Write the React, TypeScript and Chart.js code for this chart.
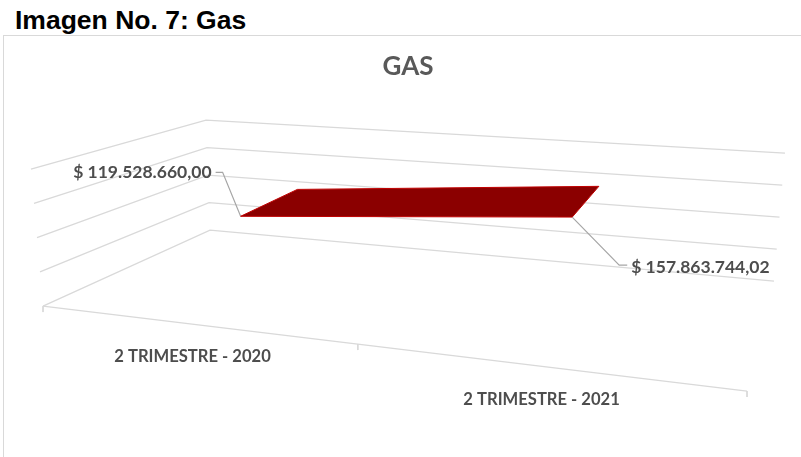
import React, { useEffect, useRef } from "react";
import { Chart, registerables } from "chart.js";

Chart.register(...registerables);

const categories = ["2 TRIMESTRE - 2020", "2 TRIMESTRE - 2021"];
const values = [119528660.0, 157863744.02];
const valueLabels = ["$ 119.528.660,00", "$ 157.863.744,02"];
const axisLevels = [0, 50000000, 100000000, 150000000, 200000000];
const chartTitle = "GAS";
const pageHeading = "Imagen No. 7: Gas";

const AXIS_MAX = 200000000;
const GRID = "#d9d9d9";
const TEXT = "#4d4d4d";
const FONT = "Lato, 'Open Sans', sans-serif";

// Perspective box of the 3-D plot: floor corners and the height vector of each vertical edge.
const FLOOR = { fl: [43, 306], bl: [210, 230], fr: [747, 391], br: [774, 281] };
const RISE = { fl: [-12, -137], bl: [-4, -110], fr: [18, -160], br: [11, -128] };
const FORESHORTEN = 1.236;
const RIBBON_FRONT = 0.385;
const RIBBON_BACK = 0.79;
// Small per-category correction of the ribbon, in screen units.
const RIBBON_NUDGE = [
  [-2.5, 2.5],
  [-2, 1],
];

const mix = (a: number[], b: number[], t: number) => [a[0] + (b[0] - a[0]) * t, a[1] + (b[1] - a[1]) * t];

function project(u: number, depth: number, value: number) {
  const t = u / (u + FORESHORTEN * (1 - u));
  const v = value / AXIS_MAX;
  const base = mix(mix(FLOOR.fl, FLOOR.fr, t), mix(FLOOR.bl, FLOOR.br, t), depth);
  const rise = mix(mix(RISE.fl, RISE.fr, t), mix(RISE.bl, RISE.br, t), depth);
  return { x: base[0] + rise[0] * v, y: base[1] + rise[1] * v };
}

const catU = (i: number) => (i + 0.5) / categories.length;

const ribbonPoint = (i: number, depth: number) => {
  const p = project(catU(i), depth, values[i]);
  return { x: p.x + RIBBON_NUDGE[i][0], y: p.y + RIBBON_NUDGE[i][1] };
};

const line = (data: { x: number; y: number }[], color: string, width: number, order: number, extra: object = {}) => ({
  type: "scatter" as const,
  data,
  showLine: true,
  borderColor: color,
  borderWidth: width,
  pointRadius: 0,
  tension: 0,
  order,
  ...extra,
});

const gridSets = axisLevels.map((lv) =>
  line([project(0, 0, lv), project(0, 1, lv), project(1, 1, lv)], GRID, 1.3, 5)
);
const floorFront = line([project(0, 0, 0), project(1, 0, 0)], GRID, 1.3, 5);
const tickSets = [0, 0.5, 1].map((u) => {
  const p = project(u, 0, 0);
  return line([p, { x: p.x, y: p.y + 6 }], GRID, 1, 5);
});
const ribbon = line(
  [
    ribbonPoint(0, RIBBON_FRONT),
    ribbonPoint(0, RIBBON_BACK),
    ribbonPoint(1, RIBBON_BACK),
    ribbonPoint(1, RIBBON_FRONT),
    ribbonPoint(0, RIBBON_FRONT),
  ],
  "#c00000",
  1,
  1,
  { fill: "shape", backgroundColor: "#8b0000" }
);
const leaderA = ribbonPoint(0, RIBBON_FRONT);
const leaderB = ribbonPoint(1, RIBBON_FRONT);
const leaders = [
  line([leaderA, { x: leaderA.x - 18, y: leaderA.y - 44 }, { x: leaderA.x - 25, y: leaderA.y - 44 }], "#a6a6a6", 1.2, 2),
  line([leaderB, { x: leaderB.x + 47, y: leaderB.y + 48 }, { x: leaderB.x + 55, y: leaderB.y + 48 }], "#a6a6a6", 1.2, 2),
];

const labelPlugin = {
  id: "labels3d",
  afterDatasetsDraw(chart: any) {
    const { ctx, scales } = chart;
    const px = (p: { x: number; y: number }) => [scales.x.getPixelForValue(p.x), scales.y.getPixelForValue(p.y)];
    ctx.save();
    ctx.fillStyle = TEXT;
    ctx.textBaseline = "middle";
    ctx.font = `bold 16.6px ${FONT}`;
    ctx.textAlign = "center";
    categories.forEach((c, i) => {
      const [x, y] = px(project(catU(i), 0, 0));
      ctx.fillText(c, x, y + 33);
    });
    ctx.font = `bold 17.5px ${FONT}`;
    const [ax, ay] = px(leaderA);
    ctx.textAlign = "right";
    ctx.fillText(valueLabels[0], ax - 29, ay - 44);
    const [bx, by] = px(leaderB);
    ctx.textAlign = "left";
    ctx.fillText(valueLabels[1], bx + 59, by + 50);
    ctx.restore();
  },
};

export default function App() {
  const ref = useRef<HTMLCanvasElement>(null);
  useEffect(() => {
    document.body.style.margin = "0";
    const chart = new Chart(ref.current!, {
      type: "scatter",
      data: { datasets: [ribbon, ...leaders, ...gridSets, floorFront, ...tickSets] as any },
      options: {
        animation: false,
        responsive: false,
        layout: { padding: { left: 15, top: 0, right: 0, bottom: 0 } },
        scales: {
          x: { type: "linear", min: 15, max: 801, display: false },
          y: { type: "linear", min: 82, max: 457, reverse: true, display: false },
        },
        plugins: {
          legend: { display: false },
          tooltip: { enabled: false },
          title: {
            display: true,
            text: chartTitle,
            color: "#595959",
            align: "center",
            font: { family: FONT, size: 26, weight: "bold", lineHeight: 1.2 },
            padding: { top: 51, bottom: 0 },
          },
        },
      },
      plugins: [labelPlugin],
    });
    return () => chart.destroy();
  }, []);
  return (
    <div style={{ position: "relative", width: 801, height: 457, overflow: "hidden", background: "#fff" }}>
      <div
        style={{
          position: "absolute",
          left: 15,
          top: 5,
          font: "bold 26.5px/30px 'Liberation Sans', Arial, sans-serif",
          color: "#000",
          whiteSpace: "nowrap",
        }}
      >
        {pageHeading}
      </div>
      <div
        style={{
          position: "absolute",
          left: 3,
          top: 35,
          width: 798,
          height: 422,
          boxSizing: "border-box",
          borderLeft: "1.5px solid #d9d9d9",
          borderTop: "1.5px solid #d9d9d9",
        }}
      />
      <canvas ref={ref} width={801} height={457} style={{ position: "absolute", left: 0, top: 0 }} />
    </div>
  );
}
